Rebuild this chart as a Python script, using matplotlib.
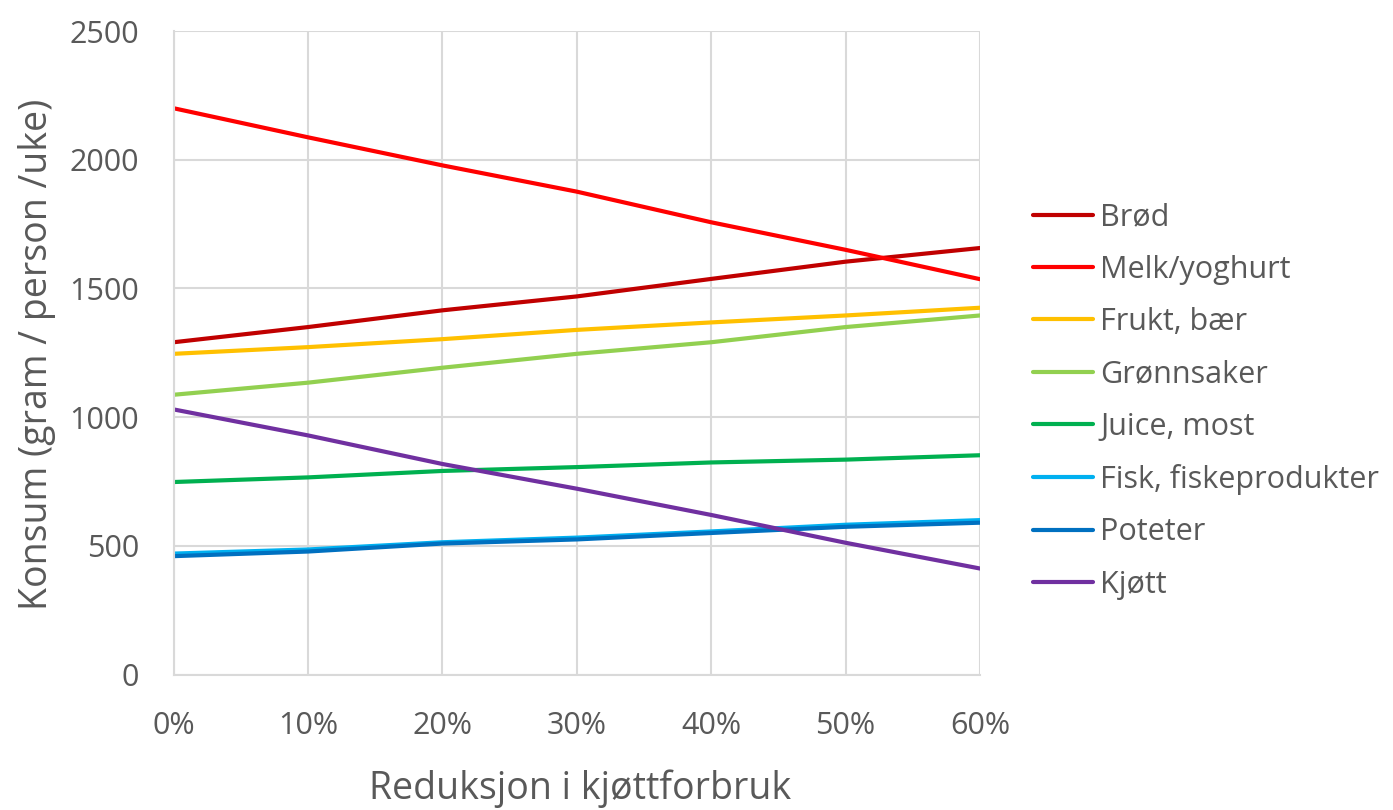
import matplotlib
matplotlib.use("Agg")
import matplotlib.pyplot as plt

reduction = [0, 10, 20, 30, 40, 50, 60]
x_ticklabels = ["0%", "10%", "20%", "30%", "40%", "50%", "60%"]

brod = [1291, 1350, 1415, 1469, 1537, 1604, 1657]
melk = [2200, 2087, 1978, 1876, 1757, 1650, 1536]
frukt = [1246, 1272, 1303, 1339, 1368, 1395, 1425]
gronnsaker = [1087, 1134, 1192, 1246, 1291, 1350, 1395]
juice = [748, 766, 791, 806, 824, 835, 852]
fisk = [470, 486, 514, 532, 556, 582, 600]
poteter = [460, 478, 509, 525, 550, 574, 590]
kjott = [1030, 929, 818, 722, 620, 512, 412]

series = [
    ("Brød", brod, "#C00000"),
    ("Melk/yoghurt", melk, "#FF0000"),
    ("Frukt, bær", frukt, "#FFC000"),
    ("Grønnsaker", gronnsaker, "#92D050"),
    ("Juice, most", juice, "#00B050"),
    ("Fisk, fiskeprodukter", fisk, "#00B0F0"),
    ("Poteter", poteter, "#0070C0"),
    ("Kjøtt", kjott, "#7030A0"),
]

plt.rcParams["font.family"] = ["Open Sans", "DejaVu Sans"]
text_color = "#595959"
grid_color = "#D9D9D9"

fig = plt.figure(figsize=(13.93, 8.10), dpi=100)
ax = fig.add_axes([0.1247, 0.1672, 0.5788, 0.7945])

for name, vals, color in series:
    ax.plot(reduction, vals, color=color, lw=3.0, label=name, solid_capstyle="round")

ax.set_xlim(0, 60)
ax.set_ylim(0, 2500)
ax.set_xticks(reduction)
ax.set_xticklabels(x_ticklabels)
ax.set_yticks([0, 500, 1000, 1500, 2000, 2500])

ax.grid(True, color=grid_color, lw=1.5)
ax.set_axisbelow(True)
for side in ["top", "right"]:
    ax.spines[side].set_visible(False)
for side in ["left", "bottom"]:
    ax.spines[side].set_color(grid_color)
    ax.spines[side].set_linewidth(1.5)

ax.tick_params(axis="both", length=0, labelsize=22, colors=text_color)
ax.tick_params(axis="x", pad=26)
ax.tick_params(axis="y", pad=25)

ax.set_xlabel("Reduksjon i kjøttforbruk", fontsize=27, color=text_color)
ax.set_ylabel("Konsum (gram / person /uke)", fontsize=27, color=text_color)
ax.xaxis.set_label_coords(0.504, -0.148)
ax.yaxis.set_label_coords(-0.146, 0.498)

leg = fig.legend(loc="upper left", bbox_to_anchor=(0.733, 0.765), frameon=False,
                 fontsize=22, handlelength=1.96, handletextpad=0.23,
                 labelspacing=0.73, borderaxespad=0)
for t in leg.get_texts():
    t.set_color(text_color)

fig.savefig("out.png", dpi=100)
